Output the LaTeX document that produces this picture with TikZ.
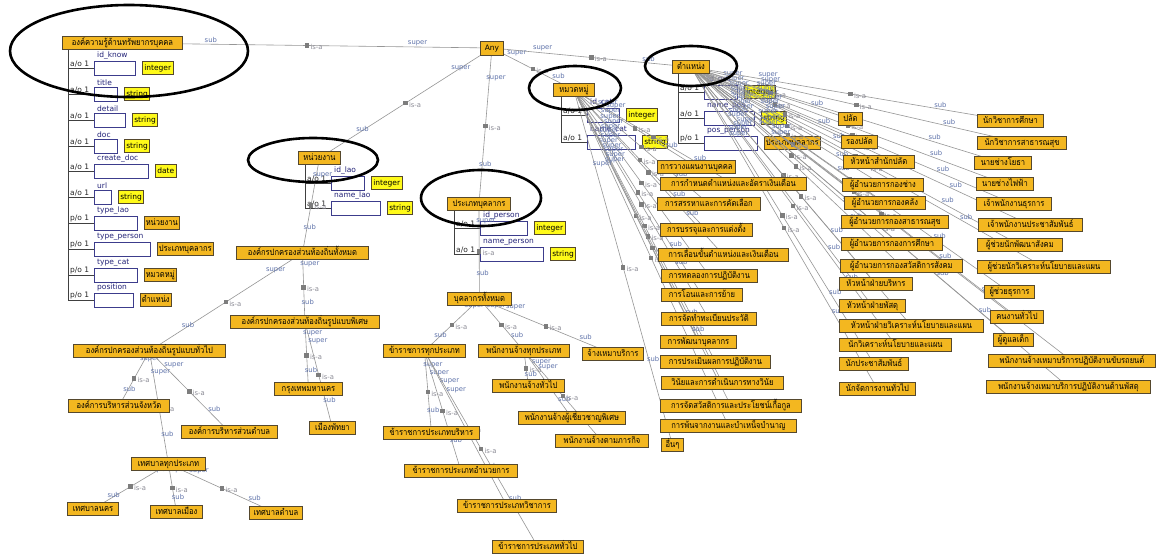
\documentclass[tikz,border=0pt]{standalone}
\usepackage{fontspec}
\setmainfont{DejaVu Sans}
\newfontfamily\thai[Script=Thai,FakeStretch=0.86]{Loma}
\newcommand\thfont{\thai\fontsize{8.8}{10}\selectfont}
\newcommand\typfont{\fontsize{7.5}{9}\selectfont}
\newcommand\rolefont{\fontsize{6.8}{8}\selectfont}

\pgfdeclarelayer{paper}
\pgfdeclarelayer{slots}
\pgfdeclarelayer{links}
\pgfdeclarelayer{rings}
\pgfsetlayers{paper,slots,links,main,rings}

\definecolor{clsfill}{RGB}{243,183,32}
\definecolor{clsline}{RGB}{85,72,45}
\definecolor{typefill}{RGB}{255,250,25}
\definecolor{slotline}{RGB}{60,60,140}
\definecolor{slottext}{RGB}{35,35,120}
\definecolor{linkgray}{RGB}{150,150,150}
\definecolor{sqgray}{RGB}{125,125,125}
\definecolor{roletext}{RGB}{95,115,170}
\definecolor{isatext}{RGB}{140,140,150}

\tikzset{
  cls/.style={draw=clsline, line width=0.9pt, fill=clsfill, font=\thfont,
    inner xsep=1.5pt, inner ysep=0pt, minimum height=13pt, text height=7pt, text depth=2.5pt},
  typ/.style={draw=clsline, line width=0.9pt, fill=typefill, font=\typfont,
    inner xsep=2pt, inner ysep=0pt, minimum height=13pt, text height=6pt, text depth=1.5pt},
  slotbox/.style={draw=slotline, line width=0.8pt, fill=white, minimum height=14pt, inner sep=0pt},
  slotname/.style={text=slottext, font=\typfont, inner sep=1pt, xshift=2pt},
  card/.style={text=black!85, font=\typfont, inner sep=1pt},
  spine/.style={draw=black!75, line width=0.8pt},
  lnk/.style={draw=linkgray, line width=0.6pt},
  sq/.style={fill=sqgray, inner sep=0pt, minimum size=4.5pt},
  isalbl/.style={anchor=west, text=isatext, font=\rolefont, inner sep=0pt, xshift=3pt, yshift=-1.5pt},
  rolelbl/.style={anchor=south west, text=roletext, font=\rolefont, inner sep=1pt, xshift=-4pt},
  ring/.style={draw=black, line width=2.6pt}
}

% class box: name, left x, centre y, width, label
\newcommand\cnode[5]{\node[cls,anchor=west,minimum width=#4pt] (#1) at (#2,#3) {#5};}
% slot row: name, spine x, y, cardinality, slot name, box width, type style, type label
\newcommand\slotrow[8]{%
  \draw[spine] (#2,#3) -- (#2+26,#3);
  \node[card,anchor=south west] at (#2+1,#3) {#4};
  \node[slotbox,anchor=west,minimum width=#6pt] (#1) at (#2+26,#3) {};
  \node[slotname,anchor=south west] at (#1.north west) {#5};
  \node[#7,anchor=west] (#1t) at ([xshift=6pt]#1.east) {#8};
}
% is-a link from super class to sub class
\newcommand\isa[2]{\path[lnk] (#1.center) -- node[sq]{} node[isalbl]{is-a}
  node[pos=.22,rolelbl]{super} node[pos=.77,rolelbl]{sub} (#2.center);}

\begin{document}
\begin{tikzpicture}[x=1pt,y=-1pt]
\begin{pgfonlayer}{paper}
  \fill[white] (0,0) rectangle (1156,555);
\end{pgfonlayer}
\useasboundingbox (0,0) rectangle (1156,555);

% ---- classes with slots
\cnode{k}{62}{43}{120}{องค์ความรู้ด้านทรัพยากรบุคคล}
\node[cls,font=\typfont,anchor=west,minimum width=23pt,minimum height=14pt] (any) at (480,48) {Any};
\cnode{lao}{298}{158}{42}{หน่วยงาน}
\cnode{ptype}{447}{204}{63}{ประเภทบุคลากร}
\cnode{cat}{553}{90}{41}{หมวดหมู่}
\cnode{pos}{672}{67}{37}{ตำแหน่ง}

\begin{pgfonlayer}{slots}
  \draw[spine] (68,50) -- (68,300);
  \slotrow{s1}{68}{68}{a/o 1}{id\_know}{41}{typ}{integer}
  \slotrow{s2}{68}{94}{a/o 1}{title}{23}{typ}{string}
  \slotrow{s3}{68}{120}{a/o 1}{detail}{31}{typ}{string}
  \slotrow{s4}{68}{146}{a/o 1}{doc}{23}{typ}{string}
  \slotrow{s5}{68}{171}{a/o 1}{create\_doc}{54}{typ}{date}
  \slotrow{s6}{68}{197}{a/o 1}{url}{17}{typ}{string}
  \slotrow{s7}{68}{223}{p/o 1}{type\_lao}{43}{cls}{หน่วยงาน}
  \slotrow{s8}{68}{249}{p/o 1}{type\_person}{56}{cls}{ประเภทบุคลากร}
  \slotrow{s9}{68}{275}{p/o 1}{type\_cat}{43}{cls}{หมวดหมู่}
  \slotrow{s10}{68}{300}{p/o 1}{position}{39}{cls}{ตำแหน่ง}

  \draw[spine] (305,165) -- (305,208);
  \slotrow{l1}{305}{183}{a/o 1}{id\_lao}{33}{typ}{integer}
  \slotrow{l2}{305}{208}{a/o 1}{name\_lao}{49}{typ}{string}

  \draw[spine] (454,210) -- (454,254);
  \slotrow{r1}{454}{228}{a/o 1}{id\_person}{47}{typ}{integer}
  \slotrow{r2}{454}{254}{a/o 1}{name\_person}{63}{typ}{string}

  \draw[spine] (561,97) -- (561,142);
  \slotrow{c1}{561}{115}{a/o 1}{id\_cat}{32}{typ}{integer}
  \slotrow{c2}{561}{142}{a/o 1}{name\_cat}{48}{typ}{string}

  \draw[spine] (678,73) -- (678,143);
  \slotrow{o1}{678}{92}{a/o 1}{id\_pos}{33}{typ}{integer}
  \slotrow{o2}{678}{118}{a/o 1}{name\_pos}{50}{typ}{string}
  \slotrow{o3}{678}{143}{p/o 1}{pos\_person}{53}{cls}{ประเภทบุคลากร}
\end{pgfonlayer}

% ---- local government tree
\cnode{lgall}{236}{253}{132}{องค์กรปกครองส่วนท้องถิ่นทั้งหมด}
\cnode{lgsp}{230}{322}{149}{องค์กรปกครองส่วนท้องถิ่นรูปแบบพิเศษ}
\cnode{lggen}{73}{351}{152}{องค์กรปกครองส่วนท้องถิ่นรูปแบบทั่วไป}
\cnode{bkk}{274}{389}{68}{กรุงเทพมหานคร}
\cnode{pty}{309}{428}{46}{เมืองพัทยา}
\cnode{pao}{68}{406}{101}{องค์การบริหารส่วนจังหวัด}
\cnode{tao}{181}{432}{96}{องค์การบริหารส่วนตำบล}
\cnode{tes}{131}{464}{74}{เทศบาลทุกประเภท}
\cnode{tesn}{67}{509}{51}{เทศบาลนคร}
\cnode{tesm}{150}{512}{52}{เทศบาลเมือง}
\cnode{test}{249}{513}{53}{เทศบาลตำบล}

% ---- personnel tree
\cnode{pall}{447}{299}{64}{บุคลากรทั้งหมด}
\cnode{gov}{383}{351}{82}{ข้าราชการทุกประเภท}
\cnode{emp}{478}{351}{91}{พนักงานจ้างทุกประเภท}
\cnode{cont}{582}{354}{61}{จ้างเหมาบริการ}
\cnode{govadm}{383}{433}{96}{ข้าราชการประเภทบริหาร}
\cnode{govdir}{404}{471}{113}{ข้าราชการประเภทอำนวยการ}
\cnode{govac}{457}{506}{99}{ข้าราชการประเภทวิชาการ}
\cnode{govgen}{492}{547}{91}{ข้าราชการประเภททั่วไป}
\cnode{empgen}{492}{386}{72}{พนักงานจ้างทั่วไป}
\cnode{empsp}{518}{418}{107}{พนักงานจ้างผู้เชี่ยวชาญพิเศษ}
\cnode{empmis}{555}{441}{93}{พนักงานจ้างตามภารกิจ}

% ---- categories
\cnode{t1}{657}{167}{78}{การวางแผนงานบุคคล}
\cnode{t2}{660}{184}{146}{การกำหนดตำแหน่งและอัตราเงินเดือน}
\cnode{t3}{657}{204}{103}{การสรรหาและการคัดเลือก}
\cnode{t4}{660}{230}{92}{การบรรจุและการแต่งตั้ง}
\cnode{t5}{658}{255}{130}{การเลื่อนขั้นตำแหน่งและเงินเดือน}
\cnode{t6}{661}{276}{96}{การทดลองการปฏิบัติงาน}
\cnode{t7}{661}{295}{81}{การโอนและการย้าย}
\cnode{t8}{661}{319}{95}{การจัดทำทะเบียนประวัติ}
\cnode{t9}{660}{342}{76}{การพัฒนาบุคลากร}
\cnode{t10}{660}{362}{110}{การประเมินผลการปฏิบัติงาน}
\cnode{t11}{661}{383}{122}{วินัยและการดำเนินการทางวินัย}
\cnode{t12}{660}{406}{141}{การจัดสวัสดิการและประโยชน์เกื้อกูล}
\cnode{t13}{660}{426}{136}{การพ้นจากงานและบำเหน็จบำนาญ}
\cnode{t14}{661}{445}{22}{อื่นๆ}

% ---- positions
\cnode{p1}{838}{119}{24}{ปลัด}
\cnode{p2}{841}{142}{36}{รองปลัด}
\cnode{p3}{843}{162}{71}{หัวหน้าสำนักปลัด}
\cnode{p4}{842}{185}{81}{ผู้อำนวยการกองช่าง}
\cnode{p5}{844}{203}{81}{ผู้อำนวยการกองคลัง}
\cnode{p6}{841}{222}{107}{ผู้อำนวยการกองสาธารณสุข}
\cnode{p7}{841}{244}{101}{ผู้อำนวยการกองการศึกษา}
\cnode{p8}{840}{266}{122}{ผู้อำนวยการกองสวัสดิการสังคม}
\cnode{p9}{839}{284}{73}{หัวหน้าฝ่ายบริหาร}
\cnode{p10}{839}{306}{66}{หัวหน้าฝ่ายพัสดุ}
\cnode{p11}{839}{326}{144}{หัวหน้าฝ่ายวิเคราะห์นโยบายและแผน}
\cnode{p12}{839}{345}{112}{นักวิเคราะห์นโยบายและแผน}
\cnode{p13}{839}{364}{69}{นักประชาสัมพันธ์}
\cnode{p14}{839}{389}{76}{นักจัดการงานทั่วไป}
\cnode{q1}{977}{121}{66}{นักวิชาการศึกษา}
\cnode{q2}{977}{143}{89}{นักวิชาการสาธารณสุข}
\cnode{q3}{974}{163}{57}{นายช่างโยธา}
\cnode{q4}{976}{184}{57}{นายช่างไฟฟ้า}
\cnode{q5}{976}{204}{75}{เจ้าพนักงานธุรการ}
\cnode{q6}{978}{225}{104}{เจ้าพนักงานประชาสัมพันธ์}
\cnode{q7}{977}{245}{85}{ผู้ช่วยนักพัฒนาสังคม}
\cnode{q8}{977}{267}{133}{ผู้ช่วยนักวิเคราะห์นโยบายและแผน}
\cnode{q9}{984}{292}{50}{ผู้ช่วยธุรการ}
\cnode{q10}{990}{317}{53}{คนงานทั่วไป}
\cnode{q11}{993}{340}{40}{ผู้ดูแลเด็ก}
\cnode{q12}{988}{361}{167}{พนักงานจ้างเหมาบริการปฏิบัติงานขับรถยนต์}
\cnode{q13}{986}{387}{164}{พนักงานจ้างเหมาบริการปฏิบัติงานด้านพัสดุ}

% ---- is-a links
\begin{pgfonlayer}{links}
  \isa{any}{k} \isa{any}{lao} \isa{any}{ptype} \isa{any}{cat} \isa{any}{pos}
  \isa{lao}{lgall}
  \isa{lgall}{lggen} \isa{lgall}{lgsp}
  \isa{lgsp}{bkk} \isa{lgsp}{pty}
  \isa{lggen}{pao} \isa{lggen}{tao} \isa{lggen}{tes}
  \isa{tes}{tesn} \isa{tes}{tesm} \isa{tes}{test}
  \isa{ptype}{pall}
  \isa{pall}{gov} \isa{pall}{emp} \isa{pall}{cont}
  \isa{gov}{govadm} \isa{gov}{govdir} \isa{gov}{govac} \isa{gov}{govgen}
  \isa{emp}{empgen} \isa{emp}{empsp} \isa{emp}{empmis}
  \foreach \i in {1,...,14} {\isa{cat}{t\i}}
  \foreach \i in {1,...,14} {\isa{pos}{p\i}}
  \foreach \i in {1,...,13} {\isa{pos}{q\i}}
\end{pgfonlayer}

% ---- highlight rings
\begin{pgfonlayer}{rings}
  \draw[ring] (129,51) ellipse [x radius=119pt, y radius=46pt];
  \draw[ring] (313,160) ellipse [x radius=65pt, y radius=22pt];
  \draw[ring] (481,198) ellipse [x radius=60pt, y radius=28pt];
  \draw[ring] (575,88) ellipse [x radius=46pt, y radius=22pt];
  \draw[ring] (691,66) ellipse [x radius=46pt, y radius=20pt];
\end{pgfonlayer}
\end{tikzpicture}
\end{document}
